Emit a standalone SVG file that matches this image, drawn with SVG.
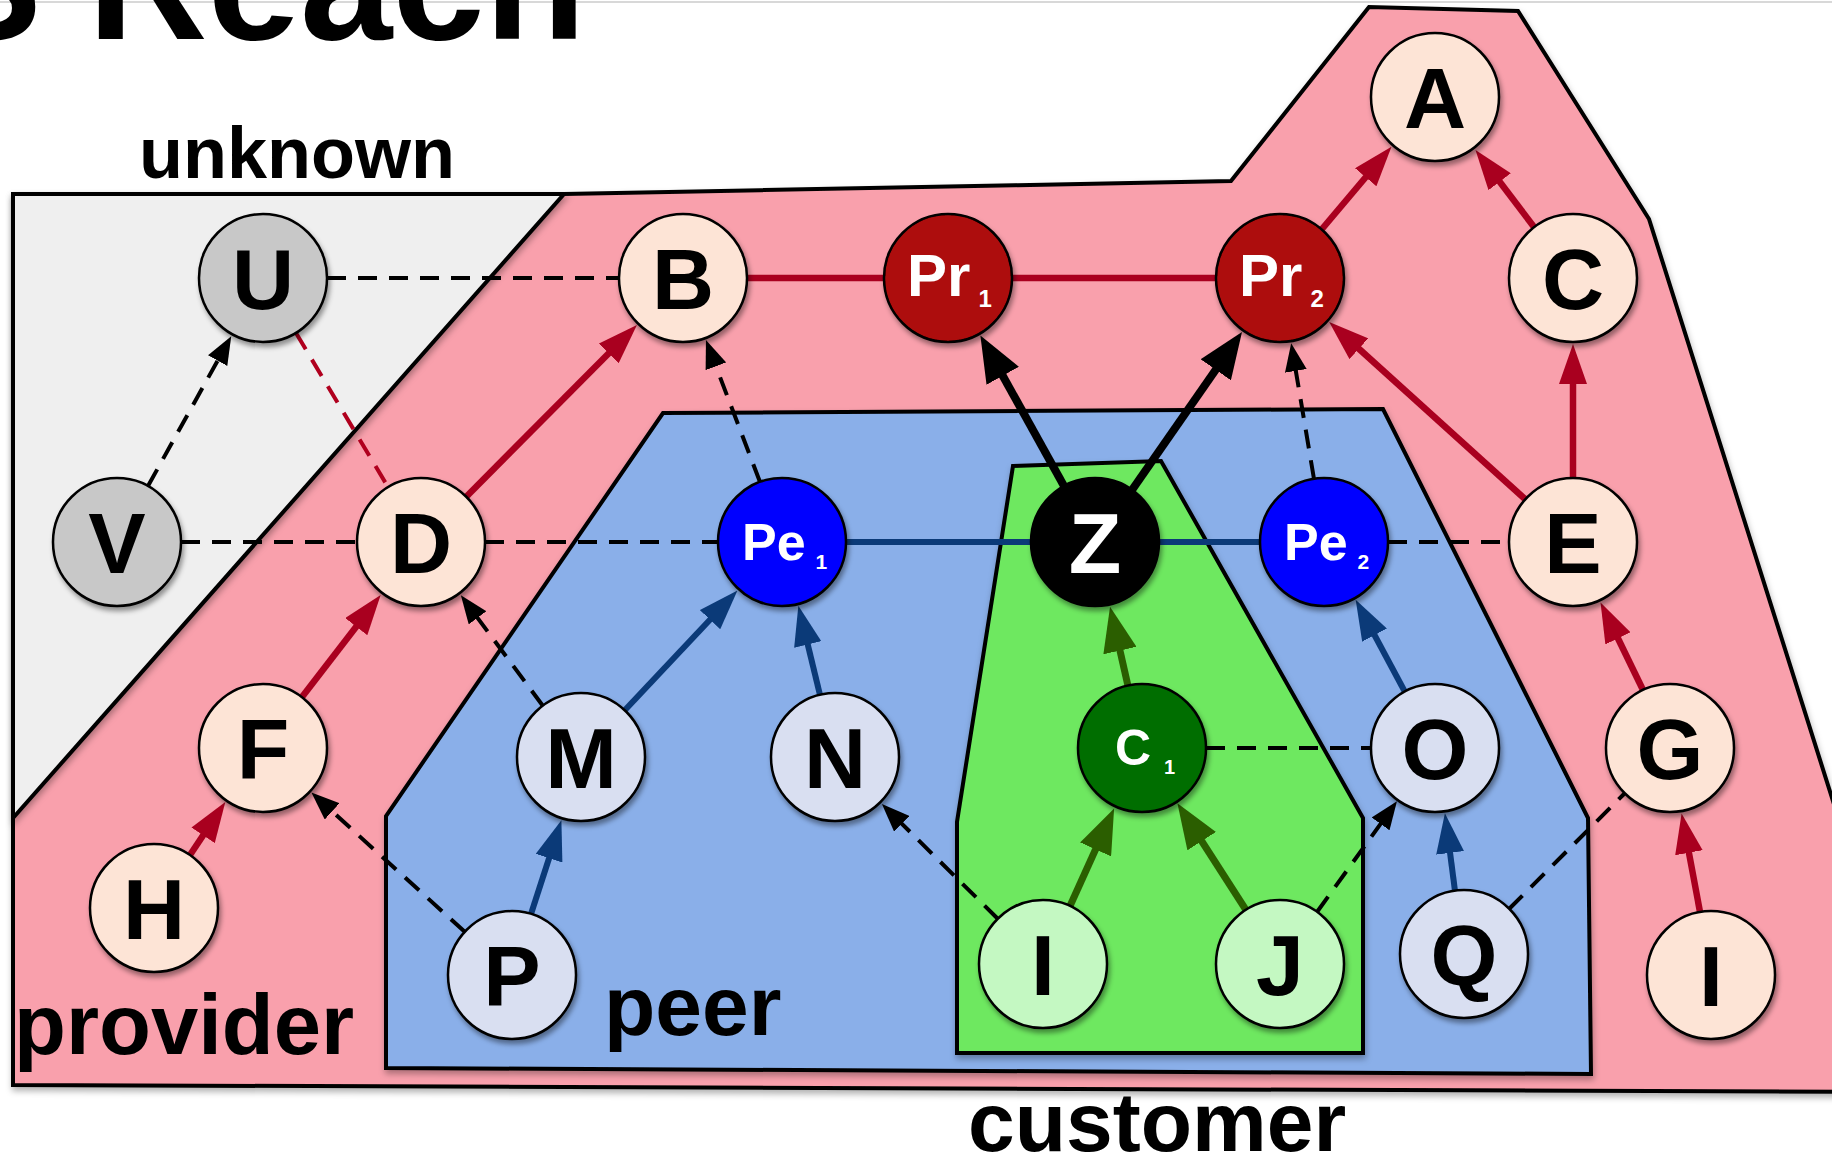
<svg xmlns="http://www.w3.org/2000/svg" width="1832" height="1162" viewBox="0 0 1832 1162">
<defs>
<style>
.region{stroke:#000;stroke-width:4;stroke-linejoin:miter;filter:url(#rsh)}
.node circle{stroke:#000;stroke-width:2.5;filter:url(#sh)}
.t{font-family:"Liberation Sans",Arial,sans-serif;font-weight:bold}
.nl{font-size:86px;text-anchor:middle}
.w{fill:#fff}
.k{fill:#000}
.dash{stroke:#000;stroke-width:4;stroke-dasharray:19 12;fill:none}
.rdash{stroke:#B0001E;stroke-width:4;stroke-dasharray:19 12;fill:none}
.red{stroke:#A9001F;stroke-width:6.5;fill:none}
.navy{stroke:#0B3A78;stroke-width:6;fill:none}
.grn{stroke:#2B5E00;stroke-width:7;fill:none}
.thick{stroke:#000;stroke-width:8;fill:none}
.peach{fill:#FDE4D6}
.gray{fill:#C8C8C8}
.lav{fill:#D9DFF1}
.lgrn{fill:#C4F8C2}
</style>
<filter id="sh" x="-30%" y="-30%" width="170%" height="170%"><feDropShadow dx="2" dy="4" stdDeviation="2.5" flood-opacity="0.4"/></filter>
<filter id="rsh" x="-5%" y="-5%" width="110%" height="110%"><feDropShadow dx="1" dy="4" stdDeviation="3" flood-opacity="0.3"/></filter>
<marker id="aRed" markerUnits="userSpaceOnUse" markerWidth="40" markerHeight="28" refX="16" refY="14" orient="auto"><path d="M0,0 L40,14 L0,28 Z" fill="#A9001F" stroke="none"/></marker>
<marker id="aNavy" markerUnits="userSpaceOnUse" markerWidth="40" markerHeight="28" refX="16" refY="14" orient="auto"><path d="M0,0 L40,14 L0,28 Z" fill="#0B3A78" stroke="none"/></marker>
<marker id="aGrn" markerUnits="userSpaceOnUse" markerWidth="45" markerHeight="34" refX="18" refY="17" orient="auto"><path d="M0,0 L45,17 L0,34 Z" fill="#2B5E00" stroke="none"/></marker>
<marker id="aBlk" markerUnits="userSpaceOnUse" markerWidth="28" markerHeight="22" refX="11" refY="11" orient="auto"><path d="M0,0 L28,11 L0,22 Z" fill="#000" stroke="none"/></marker>
<marker id="aThick" markerUnits="userSpaceOnUse" markerWidth="46" markerHeight="37" refX="18" refY="18.5" orient="auto"><path d="M0,0 L46,18.5 L0,37 Z" fill="#000" stroke="none"/></marker>
</defs>
<rect width="1832" height="1162" fill="#fff"/>
<line x1="0" y1="2" x2="1832" y2="2" stroke="#d8d8d8" stroke-width="2"/>
<text class="t" x="586" y="39" font-size="166" text-anchor="end">S Reach</text>

<g id="regions">
<polygon id="provider-region" class="region" fill="#F9A0AC" points="13,194 564,194 1231,181 1369,7 1518,11 1649,219 1925,1092 13,1085"/>
<polygon id="unknown-region" class="region" fill="#EFEFEF" points="13,194 564,194 13,818"/>
<polygon id="peer-region" class="region" fill="#8AAFE9" points="663,413 1383,409 1588,818 1591,1074 386,1068 386,816"/>
<polygon id="customer-region" class="region" fill="#6EE860" points="1013,466 1161,461 1363,818 1363,1053 957,1053 957,822"/>
<text class="t" x="139" y="178" font-size="72">unknown</text>
<text class="t" x="14" y="1054" font-size="85">provider</text>
<text class="t" x="604" y="1035" font-size="84">peer</text>
<text class="t" x="968" y="1151" font-size="84">customer</text>
</g>

<g id="connectors">
<line class="dash" x1="327" y1="278" x2="619" y2="278"/>
<line class="dash" x1="148" y1="486" x2="223" y2="351" marker-end="url(#aBlk)"/>
<line class="rdash" x1="296" y1="333" x2="388" y2="487"/>
<line class="dash" x1="181" y1="542" x2="357" y2="542"/>
<line class="dash" x1="485" y1="542" x2="718" y2="542"/>
<line class="red" x1="466" y1="497" x2="620" y2="342" marker-end="url(#aRed)"/>
<line class="dash" x1="760" y1="482" x2="712" y2="356" marker-end="url(#aBlk)"/>
<line class="red" x1="747" y1="278" x2="884" y2="278"/>
<line class="red" x1="1012" y1="278" x2="1216" y2="278"/>
<line class="red" x1="1322" y1="229" x2="1376" y2="165" marker-end="url(#aRed)"/>
<line class="red" x1="1534" y1="227" x2="1490" y2="169" marker-end="url(#aRed)"/>
<line class="red" x1="1573" y1="478" x2="1573" y2="368" marker-end="url(#aRed)"/>
<line class="red" x1="1525" y1="499" x2="1347" y2="338" marker-end="url(#aRed)"/>
<line class="thick" x1="1064" y1="486" x2="994" y2="360" marker-end="url(#aThick)"/>
<line class="thick" x1="1132" y1="490" x2="1226" y2="355" marker-end="url(#aThick)"/>
<line class="dash" x1="1314" y1="479" x2="1294" y2="360" marker-end="url(#aBlk)"/>
<line class="navy" x1="846" y1="542" x2="1031" y2="542"/>
<line class="navy" x1="1159" y1="542" x2="1260" y2="542"/>
<line class="dash" x1="1388" y1="542" x2="1509" y2="542"/>
<line class="red" x1="302" y1="697" x2="366" y2="614" marker-end="url(#aRed)"/>
<line class="red" x1="190" y1="855" x2="212" y2="822" marker-end="url(#aRed)"/>
<line class="dash" x1="543" y1="706" x2="471" y2="609" marker-end="url(#aBlk)"/>
<line class="dash" x1="465" y1="932" x2="324" y2="804" marker-end="url(#aBlk)"/>
<line class="navy" x1="531" y1="914" x2="554" y2="843" marker-end="url(#aNavy)"/>
<line class="navy" x1="625" y1="710" x2="721" y2="608" marker-end="url(#aNavy)"/>
<line class="navy" x1="820" y1="695" x2="804" y2="629" marker-end="url(#aNavy)"/>
<line class="dash" x1="998" y1="919" x2="894" y2="816" marker-end="url(#aBlk)"/>
<line class="grn" x1="1128" y1="686" x2="1116" y2="633" marker-end="url(#aGrn)"/>
<line class="grn" x1="1070" y1="906" x2="1103" y2="833" marker-end="url(#aGrn)"/>
<line class="grn" x1="1246" y1="910" x2="1192" y2="826" marker-end="url(#aGrn)"/>
<line class="dash" x1="1206" y1="748" x2="1371" y2="748"/>
<line class="dash" x1="1317" y1="912" x2="1387" y2="815" marker-end="url(#aBlk)"/>
<line class="navy" x1="1405" y1="692" x2="1367" y2="621" marker-end="url(#aNavy)"/>
<line class="navy" x1="1455" y1="891" x2="1448" y2="837" marker-end="url(#aNavy)"/>
<line class="dash" x1="1509" y1="909" x2="1625" y2="793"/>
<line class="red" x1="1643" y1="690" x2="1611" y2="624" marker-end="url(#aRed)"/>
<line class="red" x1="1700" y1="912" x2="1686" y2="837" marker-end="url(#aRed)"/>
</g>

<g id="node-U" class="node"><circle cx="263" cy="278" r="64" class="gray"/><text class="t nl k" x="263" y="309">U</text></g>
<g id="node-B" class="node"><circle cx="683" cy="278" r="64" class="peach"/><text class="t nl k" x="683" y="309">B</text></g>
<g id="node-Pr1" class="node"><circle cx="948" cy="278" r="64" fill="#AD0B0B"/><text class="t w" x="907" y="296" font-size="60">Pr<tspan font-size="24" dx="8" dy="11">1</tspan></text></g>
<g id="node-Pr2" class="node"><circle cx="1280" cy="278" r="64" fill="#AD0B0B"/><text class="t w" x="1239" y="296" font-size="60">Pr<tspan font-size="24" dx="8" dy="11">2</tspan></text></g>
<g id="node-A" class="node"><circle cx="1435" cy="97" r="64" class="peach"/><text class="t nl k" x="1435" y="128">A</text></g>
<g id="node-C" class="node"><circle cx="1573" cy="278" r="64" class="peach"/><text class="t nl k" x="1573" y="309">C</text></g>
<g id="node-V" class="node"><circle cx="117" cy="542" r="64" class="gray"/><text class="t nl k" x="117" y="573">V</text></g>
<g id="node-D" class="node"><circle cx="421" cy="542" r="64" class="peach"/><text class="t nl k" x="421" y="573">D</text></g>
<g id="node-Pe1" class="node"><circle cx="782" cy="542" r="64" fill="#0000FF"/><text class="t w" x="742" y="560" font-size="52">Pe<tspan font-size="21" dx="10" dy="9">1</tspan></text></g>
<g id="node-Z" class="node"><circle cx="1095" cy="542" r="64" fill="#000"/><text class="t nl w" x="1095" y="573">Z</text></g>
<g id="node-Pe2" class="node"><circle cx="1324" cy="542" r="64" fill="#0000FF"/><text class="t w" x="1284" y="560" font-size="52">Pe<tspan font-size="21" dx="10" dy="9">2</tspan></text></g>
<g id="node-E" class="node"><circle cx="1573" cy="542" r="64" class="peach"/><text class="t nl k" x="1573" y="573">E</text></g>
<g id="node-F" class="node"><circle cx="263" cy="748" r="64" class="peach"/><text class="t nl k" x="263" y="779">F</text></g>
<g id="node-M" class="node"><circle cx="581" cy="757" r="64" class="lav"/><text class="t nl k" x="581" y="788">M</text></g>
<g id="node-N" class="node"><circle cx="835" cy="757" r="64" class="lav"/><text class="t nl k" x="835" y="788">N</text></g>
<g id="node-C1" class="node"><circle cx="1142" cy="748" r="64" fill="#006E00"/><text class="t w" x="1115" y="765" font-size="50">C<tspan font-size="20" dx="13" dy="9">1</tspan></text></g>
<g id="node-O" class="node"><circle cx="1435" cy="748" r="64" class="lav"/><text class="t nl k" x="1435" y="779">O</text></g>
<g id="node-G" class="node"><circle cx="1670" cy="748" r="64" class="peach"/><text class="t nl k" x="1670" y="779">G</text></g>
<g id="node-H" class="node"><circle cx="154" cy="908" r="64" class="peach"/><text class="t nl k" x="154" y="939">H</text></g>
<g id="node-P" class="node"><circle cx="512" cy="975" r="64" class="lav"/><text class="t nl k" x="512" y="1006">P</text></g>
<g id="node-I-customer" class="node"><circle cx="1043" cy="964" r="64" class="lgrn"/><text class="t nl k" x="1043" y="995">I</text></g>
<g id="node-J" class="node"><circle cx="1280" cy="964" r="64" class="lgrn"/><text class="t nl k" x="1280" y="995">J</text></g>
<g id="node-Q" class="node"><circle cx="1464" cy="954" r="64" class="lav"/><text class="t nl k" x="1464" y="985">Q</text></g>
<g id="node-I-provider" class="node"><circle cx="1711" cy="975" r="64" class="peach"/><text class="t nl k" x="1711" y="1006">I</text></g>
</svg>
